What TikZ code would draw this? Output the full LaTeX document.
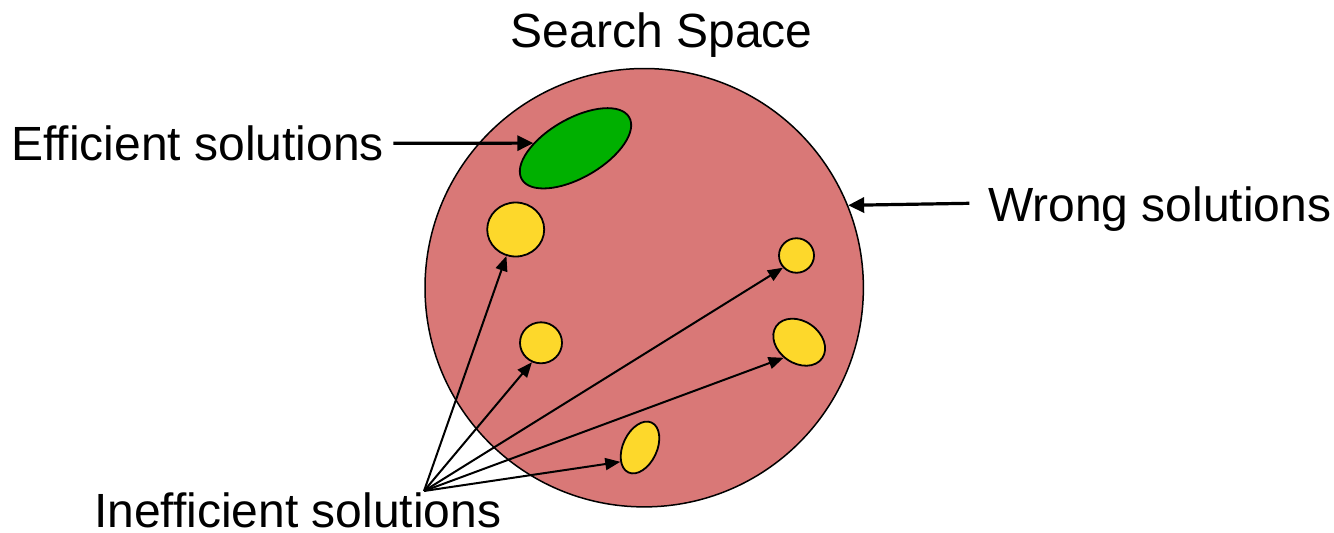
\documentclass[tikz,border=0pt]{standalone}
\usepackage{fontspec}
\setmainfont{Liberation Sans}
\usetikzlibrary{arrows.meta,shapes.geometric}
\definecolor{redfill}{RGB}{217,120,119}
\definecolor{greenfill}{RGB}{0,176,0}
\definecolor{yellowfill}{RGB}{253,216,43}
\begin{document}
\begin{tikzpicture}[x=1pt,y=-1pt,
  lbl/.style={font=\fontsize{48}{58}\selectfont, inner sep=0pt, anchor=base west},
  blob/.style={ellipse, draw=black, line width=1.8pt, fill=yellowfill, inner sep=0pt},
  thickarrow/.style={line width=3.2pt, -{Triangle[length=16pt,width=15pt]}},
  thinarrow/.style={line width=2pt, -{Triangle[length=15pt,width=12pt]}}]
\useasboundingbox (0,0) rectangle (1334,533);
\node[circle, draw=black, line width=1.5pt, fill=redfill, minimum size=438.4pt, inner sep=0pt] (space) at (644.2,287.7) {};
\node[ellipse, draw=black, line width=1.8pt, fill=greenfill, minimum width=124pt, minimum height=59pt, inner sep=0pt, rotate=30] (eff) at (575.5,148.3) {};
\node[blob, minimum width=57pt, minimum height=54pt] (y1) at (515.7,229.5) {};
\node[blob, minimum width=42pt, minimum height=41pt] (y2) at (541,342.8) {};
\node[blob, minimum width=35pt, minimum height=34.5pt] (y3) at (796.5,255.5) {};
\node[blob, minimum width=56pt, minimum height=42pt, rotate=-35] (y4) at (799.2,342.2) {};
\node[blob, minimum width=55pt, minimum height=34pt, rotate=65] (y5) at (640,447.5) {};
\node[lbl, anchor=base] (title) at (661.7,47.7) {Search Space};
\node[lbl] (efflbl) at (11.2,160) {Efficient solutions};
\node[lbl] (wronglbl) at (987.8,221) {Wrong solutions};
\node[lbl] (inefflbl) at (93.8,527.8) {Inefficient solutions};
\coordinate (effTail) at (393.3,143.3);
\coordinate (wrongTail) at (969.3,203.3);
\coordinate (src) at (424,491);
\draw[thickarrow] (effTail) -- (eff.143);
\draw[thickarrow] (wrongTail) -- (space.22.6);
\draw[thinarrow] (src) -- (y1);
\draw[thinarrow] (src) -- (y2.245);
\draw[thinarrow] (src) -- (y3.222);
\draw[thinarrow] (src) -- (y4.260);
\draw[thinarrow] (src) -- (y5.151);
\end{tikzpicture}
\end{document}
